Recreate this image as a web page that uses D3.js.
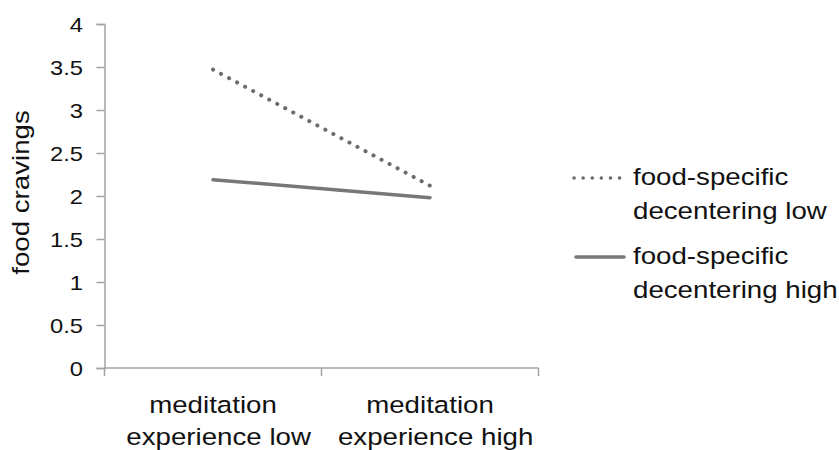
<!DOCTYPE html>
<html>
<head>
<meta charset="utf-8">
<script src="https://cdn.jsdelivr.net/npm/d3@7"></script>
<style>
  body { margin: 0; background: #fff; }
  text { font-family: "Liberation Sans", Arial, Helvetica, sans-serif; fill: #111; }
</style>
</head>
<body>
<div id="chart"></div>
<script>
// interaction plot, two lines
var categories = [["meditation", "experience low"], ["meditation", "experience high"]]
var lowDecentering = [3.47, 2.12]
var highDecentering = [2.19, 1.98]
var seriesNames = [["food-specific", "decentering low"], ["food-specific", "decentering high"]]
var yTicks = [0, 0.5, 1, 1.5, 2, 2.5, 3, 3.5, 4]

var width = 839, height = 450
var plotLeft = 104.5, plotRight = 538.5, plotTop = 24, plotBottom = 368
var wide = 1.13 // the original font runs wider than Liberation Sans
var labelSize = 24.5, tickSize = 21
var axisColor = "#a3a3a3", lineColor = "#777", dotColor = "#6c6c6c"

var svg = d3.select("#chart").append("svg")
svg.attr("width", width).attr("height", height)

var x = d3.scaleBand()
          .domain([0, 1])
          .range([plotLeft, plotRight])
var y = d3.scaleLinear()
          .domain([0, 4])
          .range([plotBottom, plotTop])

// y axis
var yAxis = d3.axisLeft(y).tickValues(yTicks).tickSize(8)
            .tickFormat(function(d) { return String(d) })
var gy = svg.append("g").attr("transform", "translate(" + plotLeft + ",0)").call(yAxis)
gy.select(".domain").attr("stroke", axisColor).attr("stroke-width", 1.5)
gy.selectAll(".tick line").attr("stroke", axisColor).attr("stroke-width", 1.5)
gy.selectAll(".tick text")
  .attr("x", 0)
  .attr("dy", "0.36em")
  .attr("transform", "translate(-21.5,0) scale(" + wide + ",1)")
  .attr("font-size", tickSize)
  .attr("fill", "#111")
  .style("font-family", "Liberation Sans, Arial, sans-serif")

// x axis - ticks at band edges
var edges = [plotLeft, x(1), plotRight]
svg.append("line")
   .attr("x1", plotLeft).attr("x2", plotRight)
   .attr("y1", plotBottom).attr("y2", plotBottom)
   .attr("stroke", axisColor).attr("stroke-width", 1.5)
svg.selectAll("line.xtick")
   .data(edges)
   .enter()
   .append("line")
   .attr("class", "xtick")
   .attr("x1", function(d) { return d }).attr("x2", function(d) { return d })
   .attr("y1", plotBottom).attr("y2", plotBottom + 8)
   .attr("stroke", axisColor).attr("stroke-width", 1.5)

svg.selectAll("g.xlab")
   .data(categories)
   .enter()
   .append("g")
   .attr("class", "xlab")
   .attr("transform", function(d, i) {
     return "translate(" + (x(i) + x.bandwidth() / 2) + ",413) scale(" + wide + ",1)"
   })
   .each(function(d) {
     var g = d3.select(this)
     d.forEach(function(s, j) {
       // second line sits a little right of centre in the original
       g.append("text")
        .attr("text-anchor", "middle")
        .attr("font-size", labelSize)
        .attr("x", j * 5)
        .attr("y", j * 32)
        .text(s)
     })
   })

// y label
svg.append("text")
   .attr("transform", "translate(29,192.5) rotate(-90) scale(" + wide + ",1)")
   .attr("text-anchor", "middle")
   .attr("font-size", labelSize)
   .text("food cravings")

var line = d3.line()
             .x(function(d, i) { return x(i) + x.bandwidth() / 2 })
             .y(function(d) { return y(d) })

svg.append("path")
   .datum(lowDecentering)
   .attr("d", line)
   .attr("fill", "none")
   .attr("stroke", dotColor)
   .attr("stroke-width", 4)
   .attr("stroke-linecap", "round")
   .attr("stroke-dasharray", "0.1,9")

svg.append("path")
   .datum(highDecentering)
   .attr("d", line)
   .attr("fill", "none")
   .attr("stroke", lineColor)
   .attr("stroke-width", 3.5)
   .attr("stroke-linecap", "round")

// legend
var legend = svg.selectAll("g.legend")
                .data(seriesNames)
                .enter()
                .append("g")
                .attr("class", "legend")
                .attr("transform", function(d, i) { return "translate(573," + (178 + i * 79) + ")" })
legend.append("line")
      .attr("x1", function(d, i) { return i === 0 ? 1 : 3 })
      .attr("x2", function(d, i) { return i === 0 ? 47 : 51 })
      .attr("y1", 0).attr("y2", 0)
      .attr("stroke", function(d, i) { return i === 0 ? dotColor : lineColor })
      .attr("stroke-width", function(d, i) { return i === 0 ? 3.5 : 3.5 })
      .attr("stroke-linecap", "round")
      .attr("stroke-dasharray", function(d, i) { return i === 0 ? "0.1,9" : null })
legend.append("g")
      .attr("transform", "translate(60,7) scale(" + wide + ",1)")
      .each(function(d) {
        var g = d3.select(this)
        d.forEach(function(s, j) {
          g.append("text").attr("font-size", labelSize).attr("y", j * 34).text(s)
        })
      })
</script>
</body>
</html>
